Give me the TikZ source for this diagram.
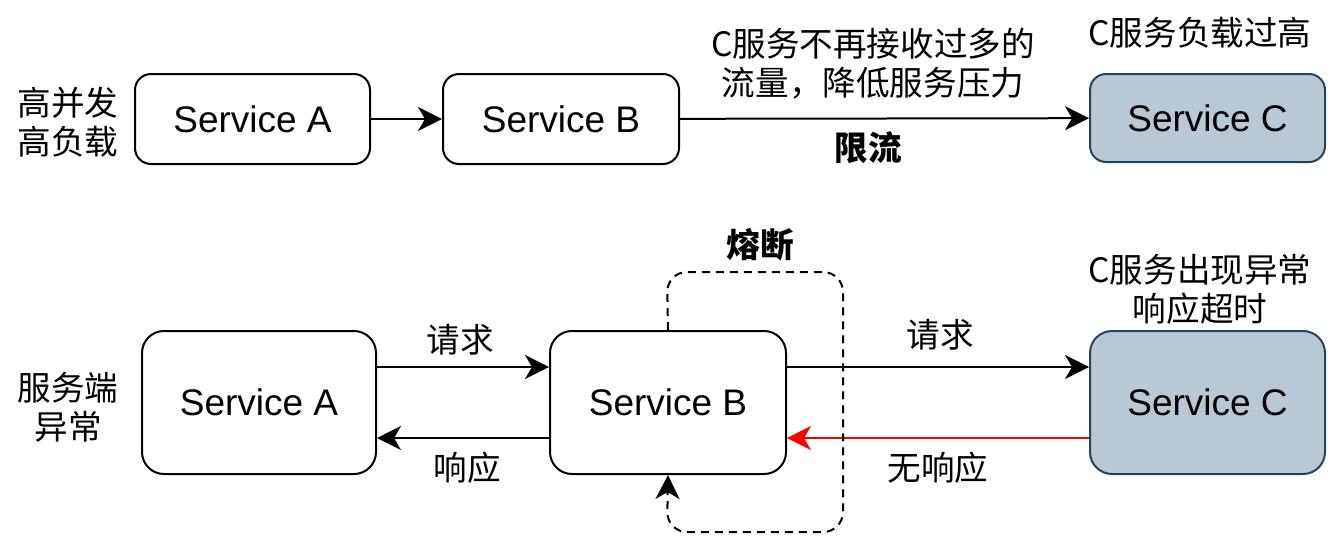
\documentclass[tikz,border=0pt]{standalone}
\usepackage{fontspec}
\setmainfont{Liberation Sans}
\newfontfamily\cjk{Noto Sans CJK SC}
\usetikzlibrary{arrows.meta}
\definecolor{cfill}{HTML}{BAC8D3}
\definecolor{cdraw}{HTML}{23445D}
\tikzset{
  svc/.style={draw=black, line width=1pt, rounded corners=8pt, inner sep=0pt, font=\fontsize{18.5}{22}\selectfont},
  svcc/.style={svc, draw=cdraw, fill=cfill},
  lbl/.style={font=\cjk\fontsize{16.8}{19.5}\selectfont, align=center, inner sep=0pt},
  blbl/.style={lbl, font=\cjk\bfseries\fontsize{16.8}{19.5}\selectfont},
  tip/.style={-{Stealth[length=12pt,width=12pt,inset=3.5pt]}},
  conn/.style={line width=1pt, tip},
}
\begin{document}
\begin{tikzpicture}[x=0.5pt,y=-0.5pt]
\useasboundingbox (0,0) rectangle (1342,552);
% top row
\node[svc, minimum width=117.5pt, minimum height=45pt] (ta) at (252.5,119) {Service A};
\node[svc, minimum width=118pt, minimum height=45pt] (tb) at (561,119) {Service B};
\node[svcc, minimum width=117.5pt, minimum height=44pt] (tc) at (1207.5,118) {Service C};
\draw[conn] (ta) -- (tb);
\draw[conn] (tb) -- (tc);
\node[lbl] (t1) at (68,122) {高并发\\高负载};
\node[lbl] (t2) at (873,64) {C服务不再接收过多的\\流量，降低服务压力};
\node[blbl] (t3) at (868,148) {限流};
\node[lbl] (t4) at (1200,33) {C服务负载过高};
% bottom row
\node[svc, rounded corners=11pt, minimum width=117pt, minimum height=71.5pt] (ba) at (259,402.5) {Service A};
\node[svc, rounded corners=11pt, minimum width=118pt, minimum height=71.5pt] (bb) at (668,402.5) {Service B};
\node[svcc, rounded corners=11pt, minimum width=117.5pt, minimum height=71.5pt] (bc) at (1207.5,402.5) {Service C};
\draw[conn] (ba.east |- 0,367) -- (bb.west |- 0,367);
\draw[conn] (bb.west |- 0,438) -- (ba.east |- 0,438);
\draw[conn] (bb.east |- 0,367) -- (bc.west |- 0,367);
\draw[conn, red] (bc.west |- 0,438) -- (bb.east |- 0,438);
\node[lbl] (l1) at (460,340) {请求};
\node[lbl] (l2) at (467,468) {响应};
\node[lbl] (l3) at (940,335) {请求};
\node[lbl] (l4) at (938,468) {无响应};
\node[lbl] (l5) at (68,407) {服务端\\异常};
\node[lbl] (l6) at (1200,289) {C服务出现异常\\响应超时};
\node[blbl] (l7) at (760,245) {熔断};
\draw[line width=1pt, dash pattern=on 4pt off 3pt, rounded corners=10pt, tip]
  (bb.north) -- (667,272) -- (843,272) -- (843,532) -- (667,532) -- (bb.south);
\end{tikzpicture}
\end{document}
